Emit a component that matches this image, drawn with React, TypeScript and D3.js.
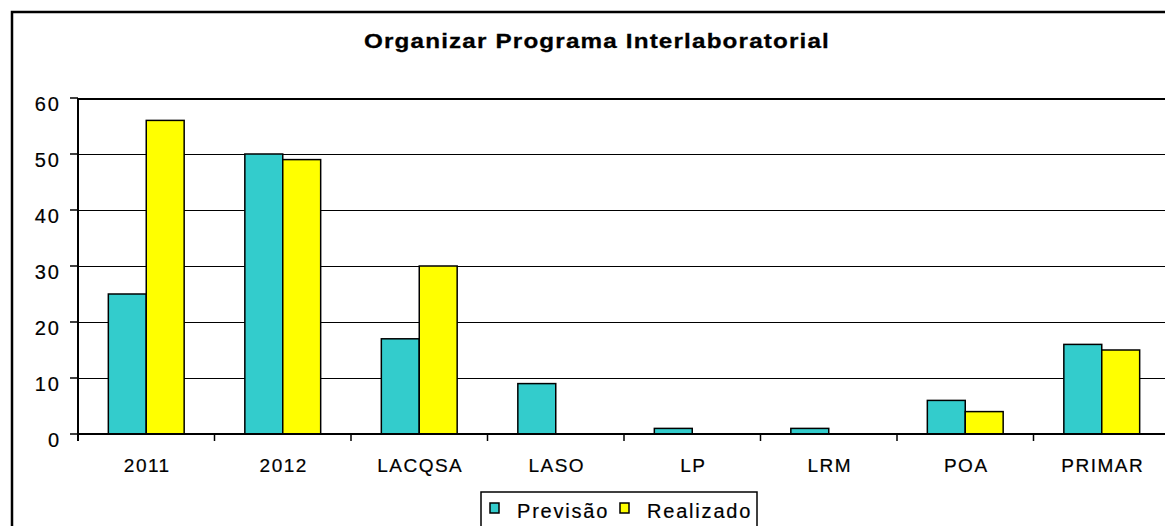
import React from "react";
import * as d3 from "d3";

const categories = ["2011", "2012", "LACQSA", "LASO", "LP", "LRM", "POA", "PRIMAR"];
const seriesNames = ["Previsão", "Realizado"];
const previsao = [25, 50, 17, 9, 1, 1, 6, 16];
const realizado = [56, 49, 30, 0, 0, 0, 4, 15];
const yTicks = [0, 10, 20, 30, 40, 50, 60];
const colors = ["#33CCCC", "#FFFF00"];

const W = 1165, H = 526;
const FONT = "'Liberation Sans', Arial, Helvetica, sans-serif";

export default function App() {
  const left = 78;
  const step = 136.5;
  const x0 = d3.scaleBand<string>().domain(categories).range([left, left + step * categories.length]).padding(0);
  const x1 = d3.scaleBand<string>().domain(seriesNames).range([0, x0.bandwidth()]).paddingInner(0).paddingOuter(0.8);
  const y = d3.scaleLinear().domain([0, 60]).range([434, 98]);
  const values = [previsao, realizado];
  const right = x0.range()[1];

  return (
    <svg width={W} height={H} style={{ position: "absolute", left: 0, top: 0, background: "#fff" }} fontFamily={FONT}>
      {/* outer chart frame, cut off at right and bottom */}
      <rect x={12} y={12} width={1200} height={560} fill="none" stroke="#000" strokeWidth={2.5} />

      <text x={597} y={48} textAnchor="middle" fontSize={21} fontWeight="bold" letterSpacing={1}
        textLength={466} lengthAdjust="spacingAndGlyphs" stroke="#000" strokeWidth={0.3}>
        Organizar Programa Interlaboratorial
      </text>

      {/* gridlines */}
      <g shapeRendering="crispEdges">
        {yTicks.filter(t => t > 0).map(t => (
          <line key={t} x1={left} x2={right} y1={y(t) + 0.5} y2={y(t) + 0.5} stroke="#000" strokeWidth={t === 60 ? 2 : 1} />
        ))}
      </g>

      {/* bars */}
      {categories.map((c, i) => (
        <g key={c} transform={`translate(${x0(c)},0)`}>
          {seriesNames.map((s, j) => values[j][i] > 0 ? (
            <rect key={s} x={x1(s)} y={y(values[j][i])} width={x1.bandwidth()} height={y(0) - y(values[j][i])}
              fill={colors[j]} stroke="#000" strokeWidth={1.5} />
          ) : null)}
        </g>
      ))}

      {/* y axis */}
      <line x1={left} x2={left} y1={y(60)} y2={y(0) + 7} stroke="#000" strokeWidth={2} />
      {yTicks.map(t => (
        <g key={t}>
          <line x1={left - 8} x2={left} y1={y(t)} y2={y(t)} stroke="#000" strokeWidth={1.5} />
          <text x={61} y={y(t) + 13} textAnchor="end" fontSize={20} letterSpacing={2} stroke="#000" strokeWidth={0.2}>{t}</text>
        </g>
      ))}

      {/* x axis */}
      <line x1={left} x2={right} y1={y(0)} y2={y(0)} stroke="#000" strokeWidth={2} />
      {d3.range(categories.length + 1).map(i => (
        <line key={i} x1={left + i * x0.step()} x2={left + i * x0.step()} y1={y(0)} y2={y(0) + 7} stroke="#000" strokeWidth={1.5} />
      ))}
      {categories.map(c => (
        <text key={c} x={(x0(c) as number) + x0.bandwidth() / 2 + 1} y={472} textAnchor="middle" fontSize={19}
          letterSpacing={1.5} stroke="#000" strokeWidth={0.2}>{c}</text>
      ))}

      {/* legend */}
      <rect x={481} y={492} width={276} height={40} fill="#fff" stroke="#000" strokeWidth={1.5} />
      {seriesNames.map((s, j) => {
        const lx = [490, 620][j];
        return (
          <g key={s}>
            <rect x={lx} y={503} width={9} height={10} fill={colors[j]} stroke="#000" strokeWidth={1.5} />
            <text x={lx + 27} y={518} fontSize={20} letterSpacing={1.8} stroke="#000" strokeWidth={0.2}>{s}</text>
          </g>
        );
      })}
    </svg>
  );
}
